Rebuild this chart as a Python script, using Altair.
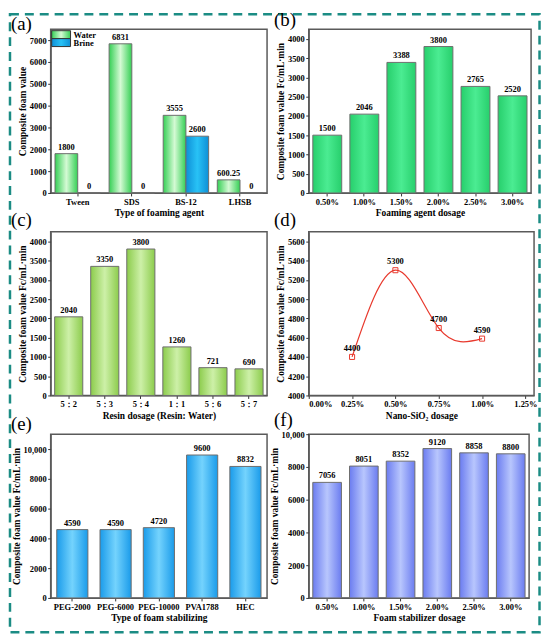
import altair as alt
import pandas as pd

FONT = "'Liberation Serif', 'Times New Roman', serif"
TEAL = "#1b8c84"
BAR_STROKE = "#6e6e6e"

# ---------------- data ----------------
a_cats = ["Tween", "SDS", "BS-12", "LHSB"]
a_series = ["Water", "Brine"]
a_water = [1800, 6831, 3555, 600.25]
a_brine = [0, 0, 2600, 0]

b_cats = ["0.50%", "1.00%", "1.50%", "2.00%", "2.50%", "3.00%"]
b_vals = [1500, 2046, 3388, 3800, 2765, 2520]

c_cats = ["5：2", "5：3", "5：4", "1：1", "5：6", "5：7"]
c_vals = [2040, 3350, 3800, 1260, 721, 690]

d_x = [0.25, 0.50, 0.75, 1.00]
d_vals = [4400, 5300, 4700, 4590]

e_cats = ["PEG-2000", "PEG-6000", "PEG-10000", "PVA1788", "HEC"]
e_vals = [4590, 4590, 4720, 9600, 8832]

f_cats = ["0.50%", "1.00%", "1.50%", "2.00%", "2.50%", "3.00%"]
f_vals = [7056, 8051, 8352, 9120, 8858, 8800]


def grad(edge, center):
    return alt.LinearGradient(
        gradient="linear",
        stops=[alt.GradientStop(color=edge, offset=0),
               alt.GradientStop(color=center, offset=0.5),
               alt.GradientStop(color=edge, offset=1)],
        x1=0, x2=1, y1=0, y2=0)


def lbl(v):
    return f"{v:g}"


one = pd.DataFrame({"k": [0]})

LABEL_EXPR_Y = "datum.value >= 10000 ? format(datum.value, ',') : format(datum.value, 'd')"
H = 165


def panel_label(letter, x, y):
    return alt.Chart(one).mark_text(
        text=f"({letter})", font=FONT, fontSize=19, align="left",
        baseline="alphabetic", color="black"
    ).encode(x=alt.value(x), y=alt.value(y))


def value_text(base, y):
    return base.mark_text(font=FONT, fontWeight="bold", fontSize=8.5,
                          baseline="bottom", dy=-2, color="black").encode(y=y, text="label:N")


def bar_panel(cats, vals, edge, center, ydom, yvals, ytitle, xtitle, pad, width, letter, lx, ly):
    df = pd.DataFrame({"cat": cats, "value": vals, "label": [lbl(v) for v in vals]})
    x = alt.X("cat:N", sort=cats,
              scale=alt.Scale(paddingInner=pad, paddingOuter=pad / 2),
              axis=alt.Axis(title=xtitle, labelAngle=0))
    y = alt.Y("value:Q", scale=alt.Scale(domain=ydom, nice=False, zero=True),
              axis=alt.Axis(title=ytitle, values=yvals, labelExpr=LABEL_EXPR_Y))
    base = alt.Chart(df).encode(x=x)
    bars = base.mark_bar(fill=grad(edge, center), stroke=BAR_STROKE, strokeWidth=1).encode(y=y)
    txt = value_text(base, y)
    return alt.layer(bars, txt, panel_label(letter, lx, ly)).properties(width=width, height=H)


# ---------------- panel (a) ----------------
df_a = pd.DataFrame({
    "cat": a_cats * 2,
    "series": ["Water"] * len(a_cats) + ["Brine"] * len(a_cats),
    "value": a_water + a_brine,
    "label": [lbl(v) for v in a_water + a_brine],
})
xa = alt.X("cat:N", sort=a_cats, scale=alt.Scale(paddingInner=0.16, paddingOuter=0.08),
           axis=alt.Axis(title="Type of foaming agent", labelAngle=0))
xo = alt.XOffset("series:N", scale=alt.Scale(domain=a_series))
ya = alt.Y("value:Q", scale=alt.Scale(domain=[0, 7500], nice=False),
           axis=alt.Axis(title="Composite foam value", values=list(range(0, 7001, 1000)),
                         labelExpr=LABEL_EXPR_Y))
base_a = alt.Chart(df_a).encode(x=xa, xOffset=xo)
water_grad = grad("#35cf55", "#d4fad4")
brine_grad = grad("#0e8fd6", "#28c2f6")
a_water_bars = base_a.transform_filter("datum.series == 'Water'").mark_bar(
    fill=water_grad, stroke=BAR_STROKE, strokeWidth=1).encode(y=ya)
a_brine_bars = base_a.transform_filter("datum.series == 'Brine'").mark_bar(
    fill=brine_grad, stroke=BAR_STROKE, strokeWidth=1).encode(y=ya)
a_text = value_text(base_a, ya)

leg_w = alt.Chart(one).mark_rect(fill=water_grad, stroke="#333", strokeWidth=1).encode(
    x=alt.value(1), x2=alt.value(20), y=alt.value(1.5), y2=alt.value(9.5))
leg_b = alt.Chart(one).mark_rect(fill=brine_grad, stroke="#333", strokeWidth=1).encode(
    x=alt.value(1), x2=alt.value(20), y=alt.value(9.5), y2=alt.value(17.5))
leg_wt = alt.Chart(one).mark_text(text="Water", font=FONT, fontWeight="bold", fontSize=8.5,
                                  align="left", baseline="middle", color="black").encode(
    x=alt.value(23), y=alt.value(5.5))
leg_bt = alt.Chart(one).mark_text(text="Brine", font=FONT, fontWeight="bold", fontSize=8.5,
                                  align="left", baseline="middle", color="black").encode(
    x=alt.value(23), y=alt.value(14))

border = alt.Chart(one).mark_rect(fill="white", fillOpacity=0, stroke=TEAL, strokeWidth=2.5,
                                  strokeDash=[9, 6]).encode(
    x=alt.value(-41), x2=alt.value(492.5), y=alt.value(-15), y2=alt.value(607.5))

pa = alt.layer(a_water_bars, a_brine_bars, a_text, leg_w, leg_b, leg_wt, leg_bt,
               panel_label("a", -40, 1), border).properties(width=218, height=H)

# ---------------- panels (b), (c), (e), (f) ----------------
Y_TITLE = "Composite foam value Fc/mL·min"
pb = bar_panel(b_cats, b_vals, "#27cf6c", "#4bec92", [0, 4250], list(range(0, 4001, 500)),
               Y_TITLE, "Foaming agent dosage", 0.22, 224, "b", -35, -3)
pc = bar_panel(c_cats, c_vals, "#8ccc4c", "#cdf0a8", [0, 4250], list(range(0, 4001, 500)),
               Y_TITLE, "Resin dosage (Resin: Water)", 0.22, 218, "c", -40, -6)
pe = bar_panel(e_cats, e_vals, "#1a9bea", "#74d3fd", [0, 11000], list(range(0, 10001, 2000)),
               "Composite foam value  Fc/mL·min", "Type of foam stabilizing", 0.28, 218, "e", -40, -4)
pf = bar_panel(f_cats, f_vals, "#6b7cf0", "#b8c6fd", [0, 10000], list(range(0, 10001, 2000)),
               "Composite foam value  Fc/mL·min", "Foam stabilizer dosage", 0.22, 222, "f", -35, -8)

# ---------------- panel (d) ----------------
df_d = pd.DataFrame({"x": d_x, "value": d_vals, "label": [lbl(v) for v in d_vals]})
xd = alt.X("x:Q", scale=alt.Scale(domain=[0, 1.3], nice=False, zero=False),
           axis=alt.Axis(title="Nano-SiO₂ dosage", values=[0, 0.25, 0.5, 0.75, 1.0, 1.25],
                         labelExpr="format(datum.value, '.2f') + '%'"))
yd = alt.Y("value:Q", scale=alt.Scale(domain=[4000, 5700], nice=False, zero=False),
           axis=alt.Axis(title=Y_TITLE, values=list(range(4000, 5601, 200)),
                         labelExpr=LABEL_EXPR_Y))
base_d = alt.Chart(df_d).encode(x=xd, y=yd)
RED = "#e8392d"
d_line = base_d.mark_line(interpolate="natural", color=RED, strokeWidth=1.2)
d_pts = base_d.mark_point(shape="square", filled=False, size=26, color=RED, strokeWidth=1, opacity=1)
d_txt = base_d.mark_text(font=FONT, fontWeight="bold", fontSize=8.5, baseline="bottom",
                         dy=-4, color="black").encode(text="label:N")
pdd = alt.layer(d_line, d_pts, d_txt, panel_label("d", -35, -6)).properties(width=227, height=H)

# ---------------- layout ----------------
chart = alt.concat(
    pa, pb, pc, pdd, pe, pf, columns=2, bounds="flush", align="each",
    spacing={"row": 39, "column": 42}
).properties(
    padding=0, background="white"
).configure_view(
    stroke="#5a5a5a", strokeWidth=1.5
).configure_axis(
    labelFont=FONT, titleFont=FONT, labelFontWeight="bold", titleFontWeight="bold",
    labelFontSize=8.5, titleFontSize=9.5, labelColor="black", titleColor="black",
    tickColor="#333333", domainColor="#5a5a5a", domainWidth=1.2, grid=False,
    tickSize=3, labelPadding=1.5, titlePadding=2
)

chart.save("out.html", embed_options={"renderer": "svg", "actions": False})
